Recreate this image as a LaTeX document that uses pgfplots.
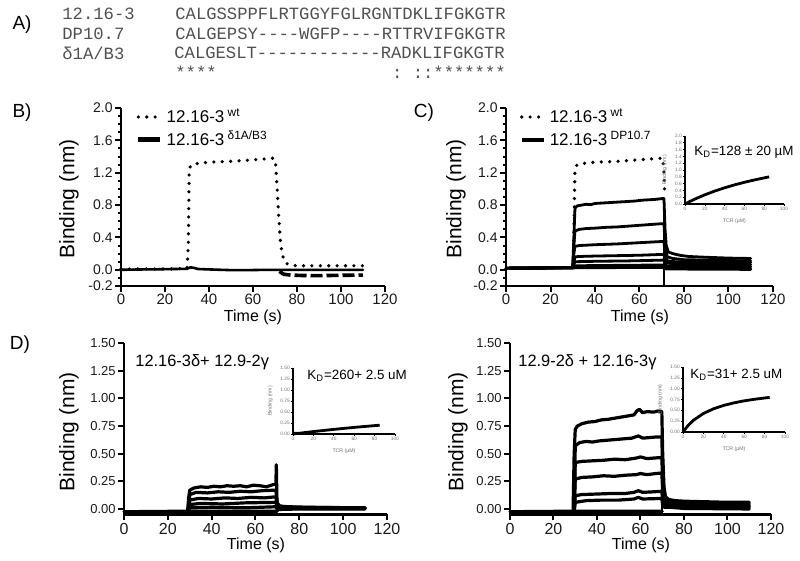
\documentclass[border=0pt]{standalone}
\usepackage{fontspec}
\setmainfont{Liberation Sans}
\newfontfamily\seqfont{Liberation Mono}
\usepackage{pgfplots}
\pgfplotsset{compat=1.18}
\definecolor{seqgray}{HTML}{505050}
\definecolor{tk}{HTML}{1A1A1A}
\definecolor{insgray}{HTML}{707070}
\newcommand{\fs}[1]{\fontsize{#1}{#1}\selectfont}
\pgfplotsset{
  prism/.style={
    scale only axis, clip=false,
    axis x line*=bottom, axis y line*=left,
    axis line style={line width=1.3pt,-},
    tick style={black,line width=1pt},
    tick align=outside,
    major tick length=2.8pt, minor tick length=1.6pt,
    xmin=0, xmax=120, xtick={0,20,40,60,80,100,120},
    /pgf/number format/assume math mode=true,
    xticklabel style={font=\fs{7.5},text=tk,inner sep=1.2pt},
    yticklabel style={font=\fs{7},text=tk,inner sep=1.2pt},
    legend cell align=left,
    legend image code/.code={\draw[##1] (0pt,0pt) -- (11pt,0pt);},
    legend style={draw=none, fill=none, inner sep=0pt, font=\fs{8.5}, row sep=-1pt},
  },
  bc/.style={prism, height=89pt, ymin=-0.2, ymax=2.0,
    ytick={-0.2,0,0.4,0.8,1.2,1.6,2.0},
    minor ytick={-0.1,0.1,0.2,0.3,0.5,0.6,0.7,0.9,1.0,1.1,1.3,1.4,1.5,1.7,1.8,1.9},
    yticklabel style={/pgf/number format/fixed,/pgf/number format/fixed zerofill,/pgf/number format/precision=1}},
  dd/.style={prism, height=85.75pt, ymin=-0.05, ymax=1.5,
    ytick={0,0.25,0.5,0.75,1.0,1.25,1.5},
    xticklabel style={font=\fs{8}},
    yticklabel style={font=\fs{6.5},/pgf/number format/fixed,/pgf/number format/fixed zerofill,/pgf/number format/precision=2}},
  inset/.style={
    scale only axis, clip=false,
    axis x line*=bottom, axis y line*=left,
    axis line style={line width=1pt,-},
    tick style={black,line width=0.3pt},
    tick align=outside, major tick length=1pt,
    xmin=0, xmax=100, ymin=0, xtick={0,20,40,60,80,100},
    /pgf/number format/assume math mode=true,
    tick label style={font=\fs{2.4},text=insgray,inner sep=0.4pt},
    xlabel={TCR (µM)}, ylabel={Binding (nm)},
    label style={font=\fs{2.6},text=insgray},
  },
  trace/.style={black, line width=1.4pt, line join=round, line cap=round},
  wt/.style={black, line width=1.8pt, line cap=round, dash pattern=on 0pt off 4.2pt},
}
\begin{document}
\begin{tikzpicture}[x=0.5pt,y=0.5pt]
\useasboundingbox (0,0) rectangle (800,561);
% ---------- Panel A ----------
\node[font=\fs{9.5}] at (22,536) {A)};
\begin{scope}[every node/.style={anchor=west, font=\seqfont\fs{8.6}, text=seqgray, inner sep=0pt}]
\node at (62,547) {12.16-3};
\node at (62,527.5) {DP10.7};
\node at (62,508) {δ1A/B3};
\node at (175,547) {CALGSSPPFLRTGGYFGLRGNTDKLIFGKGTR};
\node at (175,527.5) {CALGEPSY----WGFP----RTTRVIFGKGTR};
\node at (174,508) {CALGESLT------------RADKLIFGKGTR};
\node at (175,488.5) {****\hphantom{*****************}:\hphantom{*}::*******};
\end{scope}
% ---------- Panel B ----------
\node[font=\fs{9.5}] at (22,448) {B)};
\begin{axis}[bc, at={(60.5pt,137.5pt)}, anchor=south west, width=132pt,
  legend style={at={(axis description cs:0.055,1.02)}, anchor=north west}]
\addlegendimage{wt}
\addlegendentry{12.16-3\textsuperscript{ wt}}
\addlegendimage{black, line width=2.4pt}
\addlegendentry{12.16-3\textsuperscript{ δ1A/B3}}
\addplot[trace, line width=1.3pt, forget plot] coordinates {(0,0)(8,0.004)(16,0.006)(24,0.01)(30,0.012)(31.5,0.03)(33,0.025)(35,0.01)(42,0.003)(50,-0.004)(58,-0.004)(66,0)(72,0)(80,0)(90,0)(100,0)(110,0)};
\addplot[black, line width=1.8pt, dash pattern=on 6pt off 2pt, forget plot] coordinates {(72,-0.02)(74,-0.055)(77,-0.065)(82,-0.07)(90,-0.072)(100,-0.068)(110,-0.065)};
\addplot[wt, forget plot] coordinates {(0,0.01)(10,0.01)(20,0.01)(30,0.015)(30.6,0.3)(31,1.25)(32,1.3)(36,1.32)(40,1.33)(45,1.335)(50,1.34)(55,1.35)(60,1.36)(65,1.37)(69.5,1.38)(70.3,1.3)(71,1.0)(71.6,0.7)(72.3,0.4)(73.2,0.2)(74.5,0.09)(76.5,0.06)(80,0.05)(90,0.05)(100,0.05)(110,0.05)};
\end{axis}
\node[font=\fs{10.5}, rotate=90] at (69,362) {Binding (nm)};
\node[font=\fs{8}] at (253,244) {Time (s)};
% ---------- Panel C ----------
\node[font=\fs{9.5}] at (424,448) {C)};
\begin{axis}[bc, at={(253pt,137.5pt)}, anchor=south west, width=133.5pt,
  legend style={at={(axis description cs:0.05,1.02)}, anchor=north west}]
\addlegendimage{wt}
\addlegendentry{12.16-3\textsuperscript{ wt}}
\addlegendimage{black, line width=2pt}
\addlegendentry{12.16-3\textsuperscript{ DP10.7}}
\addplot[trace, forget plot] coordinates {(0,0.02)(10,0.022)(20,0.025)(30,0.03)(30.5,0.4)(31,0.76)(32,0.79)(34,0.8)(36,0.81)(38,0.805)(40,0.82)(43,0.825)(46,0.83)(49,0.835)(52,0.84)(55,0.845)(58,0.85)(61,0.86)(64,0.865)(67,0.87)(70,0.88)(71,0.88)(71.5,0.5)(72,0.3)(73,0.22)(75,0.2)(78,0.18)(82,0.165)(90,0.155)(100,0.145)(110,0.14)};
\addplot[trace, forget plot] coordinates {(0,0.02)(30,0.03)(30.5,0.3)(31,0.48)(33,0.5)(36,0.51)(40,0.515)(45,0.525)(50,0.53)(55,0.54)(60,0.55)(65,0.56)(70,0.57)(71,0.57)(71.5,0.3)(72.5,0.16)(75,0.14)(80,0.125)(90,0.12)(110,0.11)};
\addplot[trace, forget plot] coordinates {(0,0.02)(30,0.03)(30.5,0.2)(31,0.29)(33,0.3)(40,0.31)(50,0.32)(60,0.335)(70,0.35)(71,0.35)(71.5,0.18)(72.5,0.11)(76,0.1)(90,0.095)(110,0.09)};
\addplot[trace, forget plot] coordinates {(0,0.02)(30,0.03)(31,0.16)(33,0.165)(40,0.17)(50,0.175)(60,0.18)(70,0.19)(71,0.19)(72,0.09)(75,0.075)(110,0.065)};
\addplot[trace, forget plot] coordinates {(0,0.02)(30,0.03)(31,0.1)(40,0.105)(55,0.11)(71,0.12)(72,0.05)(110,0.04)};
\addplot[trace, forget plot] coordinates {(0,0.02)(30,0.025)(31,0.05)(50,0.055)(71,0.06)(72,0.03)(110,0.02)};
\addplot[trace, forget plot] coordinates {(0,0.015)(30,0.02)(31,0.025)(71,0.03)(72,0.01)(110,0.005)};
\addplot[trace, line width=1.2pt, forget plot] coordinates {(71,0.88)(71,-0.2)};
\addplot[wt, forget plot] coordinates {(30.3,0.05)(30.6,0.6)(31,1.25)(32,1.3)(36,1.32)(40,1.33)(45,1.335)(50,1.34)(55,1.35)(60,1.36)(65,1.37)(70.5,1.38)(71,1.2)(71.3,0.95)};
\end{axis}
\node[font=\fs{10.5}, rotate=90] at (456,362) {Binding (nm)};
\node[font=\fs{8}] at (640,244) {Time (s)};
\begin{axis}[inset, at={(342.5pt,178.5pt)}, anchor=south west, width=49.5pt, height=34pt, ymax=2.0,
  ytick={0,0.2,0.4,0.6,0.8,1.0,1.2,1.4,1.6,1.8,2.0},
  yticklabel style={/pgf/number format/fixed,/pgf/number format/fixed zerofill,/pgf/number format/precision=1}]
\addplot[black, line width=1.4pt] coordinates {(0,0)(5,0.075)(10,0.145)(20,0.27)(30,0.38)(40,0.476)(50,0.562)(60,0.638)(70,0.707)(85,0.798)};
\end{axis}
\node[anchor=west, font=\fs{6.7}, inner sep=0pt] at (694,409) {K\textsubscript{D}=128 ± 20 µM};
% ---------- Panel D left ----------
\node[font=\fs{9.5}] at (20,216) {D)};
\begin{axis}[dd, at={(62pt,23.25pt)}, anchor=south west, width=131.5pt]
\addplot[trace, line width=1.6pt] coordinates {(0,-0.025)(29.5,-0.02)(40,-0.02)(55,-0.02)(70,-0.02)};
\addplot[trace, line width=1.6pt] coordinates {(29.5,-0.02)(30,0.01)(40,0.015)(55,0.01)(69.3,0.02)(70,-0.005)(80,0.0)(110,0.0)};
\addplot[trace, line width=1.6pt] coordinates {(29.5,-0.02)(30,0.04)(35,0.05)(45,0.045)(55,0.055)(69.3,0.06)(70,0.005)(110,0.005)};
\addplot[trace, line width=1.6pt] coordinates {(29.5,-0.02)(30,0.08)(34,0.095)(40,0.09)(46,0.1)(52,0.095)(58,0.105)(64,0.1)(69.3,0.11)(70,0.01)(110,0.008)};
\addplot[trace, line width=1.6pt] coordinates {(29.5,-0.02)(30,0.13)(33,0.15)(38,0.145)(43,0.155)(48,0.15)(53,0.16)(58,0.155)(63,0.165)(69.3,0.17)(70,0.03)(75,0.015)(110,0.01)};
\addplot[trace, line width=1.6pt] coordinates {(29,-0.02)(29.5,0.1)(30,0.17)(32,0.19)(35,0.2)(38,0.195)(41,0.205)(44,0.2)(47,0.21)(50,0.205)(53,0.21)(56,0.2)(59,0.215)(62,0.21)(65,0.2)(68,0.22)(69.3,0.22)(69.5,0.4)(69.8,0.06)(71,0.025)(75,0.02)(85,0.015)(100,0.012)(110,0.01)};
\end{axis}
\node[font=\fs{10.5}, rotate=90] at (69,129) {Binding (nm)};
\node[font=\fs{8}] at (256,16) {Time (s)};
\node[anchor=west, font=\fs{8.2}, inner sep=0pt] at (135,199) {12.16-3δ+ 12.9-2γ};
\begin{axis}[inset, at={(146.5pt,63.5pt)}, anchor=south west, width=51pt, height=33pt, ymax=1.5,
  ytick={0,0.25,0.5,0.75,1.0,1.25,1.5},
  yticklabel style={/pgf/number format/fixed,/pgf/number format/fixed zerofill,/pgf/number format/precision=2}]
\addplot[black, line width=1.4pt] coordinates {(0,0)(20,0.055)(40,0.105)(60,0.15)(85,0.2)};
\addplot[black, line width=1pt] coordinates {(0,0.03)(10,0.012)(22,0)};
\end{axis}
\node[anchor=west, font=\fs{6.7}, inner sep=0pt] at (307,185) {K\textsubscript{D}=260+ 2.5 uM};
% ---------- Panel D right ----------
\begin{axis}[dd, at={(255pt,23.25pt)}, anchor=south west, width=130.5pt]
\addplot[trace, line width=1.6pt] coordinates {(0,-0.025)(29.5,-0.02)(50,-0.02)(70,-0.02)};
\addplot[trace, line width=1.6pt] coordinates {(29.5,-0.02)(30,0.06)(35,0.075)(42,0.08)(50,0.08)(57,0.09)(59,0.105)(61,0.09)(69.8,0.095)(70.3,0.02)(80,0.005)(110,0.0)};
\addplot[trace, line width=1.6pt] coordinates {(29.5,-0.02)(30,0.12)(33,0.13)(40,0.135)(47,0.14)(53,0.14)(57,0.15)(59,0.165)(61,0.15)(66,0.155)(69.8,0.16)(70.3,0.05)(71,0.015)(110,0.01)};
\addplot[trace, line width=1.6pt] coordinates {(29.5,-0.02)(30,0.27)(33,0.285)(38,0.29)(43,0.3)(48,0.295)(53,0.305)(58,0.31)(60,0.32)(63,0.31)(67,0.32)(69.8,0.325)(70.3,0.12)(71,0.03)(110,0.02)};
\addplot[trace, line width=1.6pt] coordinates {(29.5,-0.02)(30,0.42)(33,0.43)(38,0.435)(43,0.44)(48,0.45)(53,0.445)(58,0.46)(60,0.47)(63,0.455)(66,0.46)(69.8,0.465)(70.3,0.2)(71,0.05)(80,0.035)(110,0.03)};
\addplot[trace, line width=1.6pt] coordinates {(29.5,-0.02)(30,0.57)(32,0.6)(35,0.61)(38,0.605)(41,0.615)(44,0.62)(47,0.625)(50,0.63)(53,0.635)(56,0.64)(59,0.66)(61,0.64)(64,0.645)(67,0.65)(69.8,0.65)(70.3,0.3)(71,0.08)(74,0.055)(85,0.05)(110,0.045)};
\addplot[trace, line width=1.6pt] coordinates {(29,-0.02)(29.5,0.5)(30,0.72)(31,0.75)(33,0.77)(36,0.785)(39,0.79)(42,0.805)(45,0.81)(48,0.82)(51,0.83)(54,0.84)(57,0.85)(58.5,0.89)(59.5,0.9)(61,0.87)(63,0.88)(66,0.875)(68,0.885)(69.8,0.88)(70.2,0.5)(70.8,0.2)(71.5,0.11)(73,0.085)(76,0.075)(80,0.07)(90,0.065)(100,0.06)(110,0.06)};
\addplot[trace, line width=1.2pt] coordinates {(70,0.88)(70,-0.05)};
\end{axis}
\node[font=\fs{10.5}, rotate=90] at (458,129) {Binding (nm)};
\node[font=\fs{8}] at (641,16) {Time (s)};
\node[anchor=west, font=\fs{8.2}, inner sep=0pt] at (518,199) {12.9-2δ + 12.16-3γ};
\begin{axis}[inset, at={(341.5pt,64.5pt)}, anchor=south west, width=51pt, height=32.5pt, ymax=1.5,
  ytick={0,0.25,0.5,0.75,1.0,1.25,1.5},
  yticklabel style={/pgf/number format/fixed,/pgf/number format/fixed zerofill,/pgf/number format/precision=2}]
\addplot[black, line width=1.4pt] coordinates {(0,0)(5,0.151)(10,0.266)(20,0.427)(30,0.536)(40,0.614)(50,0.673)(60,0.719)(70,0.755)(85,0.799)};
\end{axis}
\node[anchor=west, font=\fs{6.7}, inner sep=0pt] at (690,186) {K\textsubscript{D}=31+ 2.5 uM};
\end{tikzpicture}
\end{document}
